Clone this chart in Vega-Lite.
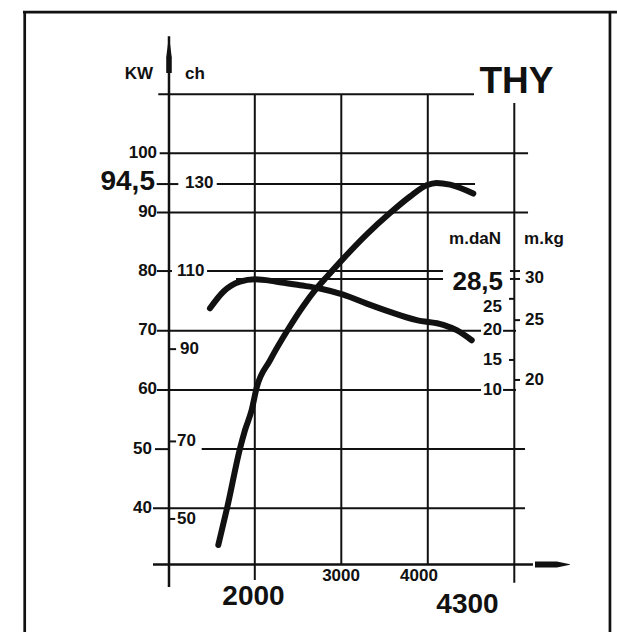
{
  "$schema": "https://vega.github.io/schema/vega-lite/v6.json",
  "width": 617,
  "height": 632,
  "padding": 0,
  "autosize": "none",
  "background": "white",
  "config": {"view": {"stroke": null}, "text": {"font": "Liberation Sans", "fontWeight": "bold", "color": "#111"}},
  "datasets": {
    "frame": [
      {"x": -680, "x2": 6187, "y": 123.85, "y2": 123.85},
      {"x": -660, "x2": -660, "y": 123.85, "y2": 19.1},
      {"x": 6106, "x2": 6106, "y": 123.85, "y2": 19.1}
    ],
    "axes": [
      {"x": 1008, "x2": 1008, "y": 119.8, "y2": 26.7},
      {"x": 823, "x2": 5216, "y": 30.5, "y2": 30.5}
    ],
    "grid": [
      {"x": 2000, "x2": 2000, "y": 110, "y2": 27.9},
      {"x": 3000, "x2": 3000, "y": 110, "y2": 30.5},
      {"x": 4000, "x2": 4000, "y": 110, "y2": 30.5},
      {"x": 5000, "x2": 5000, "y": 108.5, "y2": 27.4},
      {"x": 884, "x2": 4534, "y": 110, "y2": 110},
      {"x": 900, "x2": 5159, "y": 100, "y2": 100},
      {"x": 866, "x2": 1116, "y": 94.8, "y2": 94.8},
      {"x": 1560, "x2": 4546, "y": 94.8, "y2": 94.8},
      {"x": 869, "x2": 5159, "y": 90, "y2": 90},
      {"x": 869, "x2": 1043, "y": 80.1, "y2": 80.1},
      {"x": 1448, "x2": 4176, "y": 80.1, "y2": 80.1},
      {"x": 1783, "x2": 4176, "y": 78.76, "y2": 78.76},
      {"x": 869, "x2": 4615, "y": 70, "y2": 70},
      {"x": 869, "x2": 4615, "y": 60, "y2": 60},
      {"x": 846, "x2": 1020, "y": 50, "y2": 50},
      {"x": 1386, "x2": 5124, "y": 50, "y2": 50},
      {"x": 823, "x2": 5124, "y": 40, "y2": 40},
      {"x": 4950, "x2": 5066, "y": 80.1, "y2": 80.1},
      {"x": 4950, "x2": 5066, "y": 78.76, "y2": 78.76},
      {"x": 4870, "x2": 5020, "y": 70, "y2": 70},
      {"x": 4870, "x2": 5020, "y": 60, "y2": 60},
      {"x": 4939, "x2": 5008, "y": 75.4, "y2": 75.4},
      {"x": 4939, "x2": 5008, "y": 65.07, "y2": 65.07},
      {"x": 5008, "x2": 5066, "y": 71.8, "y2": 71.8},
      {"x": 5008, "x2": 5066, "y": 61.69, "y2": 61.69},
      {"x": 1020, "x2": 1090, "y": 66.9, "y2": 66.9},
      {"x": 1020, "x2": 1090, "y": 51.3, "y2": 51.3},
      {"x": 1020, "x2": 1080, "y": 38.2, "y2": 38.2}
    ],
    "power": [
      {"x": 1578, "y": 33.8}, {"x": 1682, "y": 40.2}, {"x": 1829, "y": 50.1},
      {"x": 1887, "y": 53.2}, {"x": 1964, "y": 56.6}, {"x": 2022, "y": 60.4},
      {"x": 2176, "y": 65.0}, {"x": 2387, "y": 70.3}, {"x": 2561, "y": 74.2},
      {"x": 2716, "y": 77.2}, {"x": 2831, "y": 79.1}, {"x": 3023, "y": 82.2},
      {"x": 3294, "y": 86.3}, {"x": 3563, "y": 89.9}, {"x": 3795, "y": 92.7},
      {"x": 3987, "y": 94.6}, {"x": 4100, "y": 95.0}, {"x": 4257, "y": 94.7},
      {"x": 4526, "y": 93.2}
    ],
    "torque": [
      {"x": 1482, "t": 23.8}, {"x": 1636, "t": 26.6}, {"x": 1829, "t": 28.3},
      {"x": 2002, "t": 28.7}, {"x": 2253, "t": 28.3}, {"x": 2523, "t": 27.7},
      {"x": 2740, "t": 27.2}, {"x": 3023, "t": 26.1}, {"x": 3294, "t": 24.6},
      {"x": 3563, "t": 23.2}, {"x": 3872, "t": 21.8}, {"x": 4179, "t": 21.0},
      {"x": 4334, "t": 20.1}, {"x": 4508, "t": 18.4}
    ],
    "labelsRight": [
      {"x": 870, "y": 100.05, "label": "100"},
      {"x": 870, "y": 90.0, "label": "90"},
      {"x": 870, "y": 80.1, "label": "80"},
      {"x": 870, "y": 70.05, "label": "70"},
      {"x": 870, "y": 60.08, "label": "60"},
      {"x": 812, "y": 50.1, "label": "50"},
      {"x": 812, "y": 40.05, "label": "40"},
      {"x": 4858, "y": 74.1, "label": "25"},
      {"x": 4858, "y": 70.05, "label": "20"},
      {"x": 4858, "y": 65.07, "label": "15"},
      {"x": 4858, "y": 60.0, "label": "10"}
    ],
    "labelsLeft": [
      {"x": 1193, "y": 94.9, "label": "130"},
      {"x": 1100, "y": 80.1, "label": "110"},
      {"x": 1135, "y": 66.9, "label": "90"},
      {"x": 1100, "y": 51.29, "label": "70"},
      {"x": 1100, "y": 38.2, "label": "50"},
      {"x": 5124, "y": 78.9, "label": "30"},
      {"x": 5124, "y": 71.8, "label": "25"},
      {"x": 5124, "y": 61.69, "label": "20"}
    ],
    "labelsCenter": [
      {"x": 661, "y": 113.4, "label": "KW"},
      {"x": 1309, "y": 113.4, "label": "ch"},
      {"x": 4546, "y": 85.43, "label": "m.daN"},
      {"x": 5343, "y": 85.43, "label": "m.kg"},
      {"x": 2997, "y": 28.56, "label": "3000"},
      {"x": 3898, "y": 28.56, "label": "4000"}
    ],
    "bigRight": [
      {"x": 846, "y": 95.07, "label": "94,5"}
    ],
    "bigRightLow": [
      {"x": 4870, "y": 76.81, "label": "28,5"}
    ],
    "bigCenter": [
      {"x": 1985, "y": 25.0, "label": "2000"},
      {"x": 4459, "y": 23.66, "label": "4300"}
    ],
    "title": [
      {"x": 5025, "y": 112.05, "label": "THY"}
    ],
    "arrowUp": [{"x": 1008, "y": 116.7}],
    "arrowRight": [{"x": 5442, "y": 30.5}]
  },
  "encoding": {
    "x": {"field": "x", "type": "quantitative", "scale": {"domain": [-945.7, 6187.4], "nice": false, "zero": false}, "axis": null}
  },
  "layer": [
    {
      "encoding": {
        "y": {"field": "y", "type": "quantitative", "scale": {"domain": [19.09, 125.91], "nice": false, "zero": false}, "axis": null}
      },
      "layer": [
        {"data": {"name": "frame"}, "mark": {"type": "rule", "strokeWidth": 2.7, "color": "#111"},
         "encoding": {"x2": {"field": "x2"}, "y2": {"field": "y2"}}},
        {"data": {"name": "axes"}, "mark": {"type": "rule", "strokeWidth": 2.5, "color": "#111"},
         "encoding": {"x2": {"field": "x2"}, "y2": {"field": "y2"}}},
        {"data": {"name": "grid"}, "mark": {"type": "rule", "strokeWidth": 2, "color": "#111"},
         "encoding": {"x2": {"field": "x2"}, "y2": {"field": "y2"}}},
        {"data": {"name": "power"}, "mark": {"type": "line", "strokeWidth": 6, "color": "#111", "interpolate": "monotone", "strokeCap": "round"}, "encoding": {}},
        {"data": {"name": "arrowUp"}, "mark": {"type": "point", "filled": true, "opacity": 1, "color": "#111", "size": 1369, "shape": "M0,-1 L0.15,0.15 L0.15,1 L-0.15,1 L-0.15,0.15 Z"}, "encoding": {}},
        {"data": {"name": "arrowRight"}, "mark": {"type": "point", "filled": true, "opacity": 1, "color": "#111", "size": 1225, "shape": "M-1,-0.17 L0.25,-0.17 L1,-0.02 L1,0.02 L0.25,0.17 L-1,0.17 Z"}, "encoding": {}},
        {"data": {"name": "labelsRight"}, "mark": {"type": "text", "fontSize": 17, "align": "right", "baseline": "middle"}, "encoding": {"text": {"field": "label"}}},
        {"data": {"name": "labelsLeft"}, "mark": {"type": "text", "fontSize": 17, "align": "left", "baseline": "middle"}, "encoding": {"text": {"field": "label"}}},
        {"data": {"name": "labelsCenter"}, "mark": {"type": "text", "fontSize": 17, "align": "center", "baseline": "middle"}, "encoding": {"text": {"field": "label"}}},
        {"data": {"name": "bigRight"}, "mark": {"type": "text", "fontSize": 28, "align": "right", "baseline": "middle"}, "encoding": {"text": {"field": "label"}}},
        {"data": {"name": "bigRightLow"}, "mark": {"type": "text", "fontSize": 26, "align": "right", "baseline": "alphabetic"}, "encoding": {"text": {"field": "label"}}},
        {"data": {"name": "bigCenter"}, "mark": {"type": "text", "fontSize": 28, "align": "center", "baseline": "middle"}, "encoding": {"text": {"field": "label"}}},
        {"data": {"name": "title"}, "mark": {"type": "text", "fontSize": 37, "align": "center", "baseline": "middle"}, "encoding": {"text": {"field": "label"}}}
      ]
    },
    {
      "data": {"name": "torque"},
      "mark": {"type": "line", "strokeWidth": 6, "color": "#111", "interpolate": "monotone", "strokeCap": "round"},
      "encoding": {
        "y": {"field": "t", "type": "quantitative", "scale": {"domain": [-30.91, 75.91], "nice": false, "zero": false}, "axis": null}
      }
    }
  ],
  "resolve": {"scale": {"y": "independent"}}
}
